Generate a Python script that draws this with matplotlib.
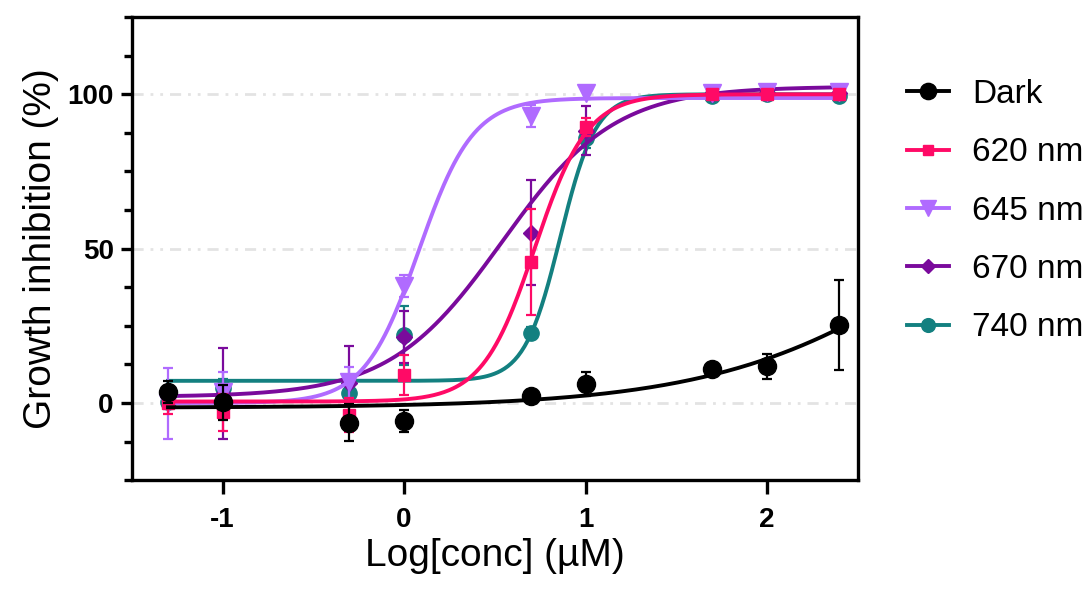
import matplotlib
matplotlib.use("Agg")
import matplotlib.pyplot as plt
from matplotlib.lines import Line2D
from matplotlib.ticker import MultipleLocator
import numpy as np

plt.rcParams["font.family"] = ["Liberation Sans", "DejaVu Sans"]
plt.rcParams["axes.unicode_minus"] = False

# concentrations in uM (plotted as log10)
conc = [0.05, 0.1, 0.5, 1, 5, 10, 50, 100, 250]

labels = ["Dark", "620 nm", "645 nm", "670 nm", "740 nm"]
colors = ["#000000", "#FF0A66", "#B06BFF", "#7A0A9C", "#138080"]
markers = ["o", "s", "v", "D", "o"]
msizes = [13, 8.5, 12.5, 8, 11]

dark = [3.7, 0.2, -6.3, -5.9, 2.2, 6.1, 11.0, 11.9, 25.3]
dark_sd = [3.6, 5.8, 6.1, 3.6, 2.0, 3.9, 1.5, 4.0, 14.7]
nm620 = [0.0, -3.0, -3.8, 9.1, 45.7, 89.4, 100.2, 100.2, 100.2]
nm620_sd = [3.5, 6.0, 5.5, 6.4, 17.3, 3.0, 1.0, 1.0, 1.0]
nm645 = [0.0, 3.5, 6.7, 38.0, 93.0, 100.5, 100.5, 100.6, 100.6]
nm645_sd = [11.5, 6.5, 5.0, 3.5, 3.6, 2.0, 1.0, 1.0, 1.0]
nm670 = [2.5, 3.0, 6.5, 21.5, 55.2, 88.2, 100.0, 100.5, 100.5]
nm670_sd = [3.0, 14.7, 12.0, 8.4, 17.0, 8.0, 1.0, 1.0, 1.0]
nm740 = [0.5, 4.8, 3.4, 21.9, 22.6, 85.7, 99.5, 100.0, 99.5]
nm740_sd = [2.5, 3.0, 2.0, 9.6, 2.0, 3.0, 1.0, 1.0, 1.0]

means = [dark, nm620, nm645, nm670, nm740]
sds = [dark_sd, nm620_sd, nm645_sd, nm670_sd, nm740_sd]

# 4PL fit parameters
fit_bottom = [-1.5, 0.5, 0.0, 2.0, 7.2]
fit_top = [100.0, 100.0, 98.8, 102.5, 100.0]
fit_logec50 = [3.11, 0.72, 0.081, 0.54, 0.86]
fit_hill = [0.66, 3.0, 2.9, 1.4, 4.4]

zorders = [10, 8, 7, 6, 5]

logx = np.log10(conc)
xfit = np.linspace(logx[0], logx[-1], 400)

fig = plt.figure(figsize=(10.9, 5.9), dpi=100)
ax = fig.add_axes([0.121, 0.186, 0.666, 0.785])

for yv in [0, 50, 100]:
    ax.axhline(yv, color="#e3e3e3", lw=2, dashes=(4, 2.5, 1, 2.5, 1, 2.5), zorder=0)

handles = []
for i in range(len(labels)):
    yfit = fit_bottom[i] + (fit_top[i] - fit_bottom[i]) / (
        1 + 10 ** ((fit_logec50[i] - xfit) * fit_hill[i]))
    ax.plot(xfit, yfit, color=colors[i], lw=2.8, zorder=zorders[i])
    ax.errorbar(logx, means[i], yerr=sds[i], fmt="none", ecolor=colors[i],
                elinewidth=1.6, capsize=3.5, capthick=1.6, zorder=zorders[i])
    ax.plot(logx, means[i], linestyle="none", marker=markers[i], ms=msizes[i],
            color=colors[i], mec=colors[i], zorder=zorders[i] + 0.5)
    handles.append(Line2D([], [], color=colors[i], lw=2.8, marker=markers[i],
                          ms=msizes[i] * 0.9, mec=colors[i]))

ax.set_xlim(-1.5, 2.5)
ax.set_ylim(-25, 125)
ax.set_xticks([-1, 0, 1, 2])
ax.set_yticks([0, 50, 100])
ax.yaxis.set_minor_locator(MultipleLocator(12.5))

for s in ax.spines.values():
    s.set_linewidth(2.4)
ax.tick_params(axis="both", which="major", width=2.4, labelsize=20)
ax.tick_params(axis="x", which="major", length=10, pad=9)
ax.tick_params(axis="y", which="major", length=8, pad=5)
ax.tick_params(axis="y", which="minor", length=5.5, width=2.4)
for t in ax.get_xticklabels() + ax.get_yticklabels():
    t.set_fontweight("bold")

ax.set_xlabel("Log[conc] (µM)", fontsize=28, labelpad=4)
ax.set_ylabel("Growth inhibition (%)", fontsize=28, labelpad=6)

fig.legend(handles, labels, loc="upper left", bbox_to_anchor=(0.832, 0.866),
           frameon=False, fontsize=24, borderpad=0, handlelength=1.25,
           handletextpad=0.7, labelspacing=0.82, borderaxespad=0)

fig.savefig("out.png", dpi=100)
